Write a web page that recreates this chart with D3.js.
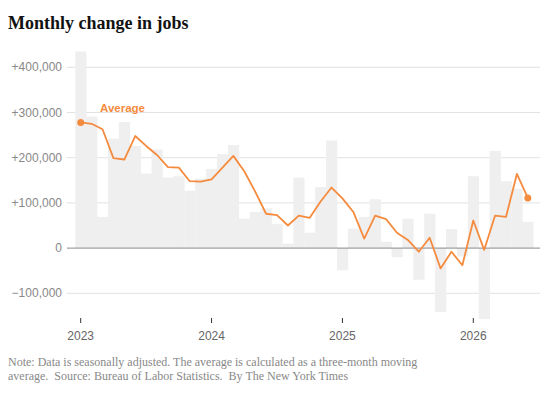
<!DOCTYPE html>
<html lang="en">
<head>
<meta charset="UTF-8">
<title>Monthly change in jobs</title>
<script src="https://cdn.jsdelivr.net/npm/d3@7"></script>
<style>
    body { margin: 0; background: #fff; }
    svg { display: block; }
</style>
</head>
<body>
<svg id="chart" width="550" height="402"></svg>
<script>
// monthly job change, Jan 2023 - Jun 2026
const months = d3.timeMonths(new Date(2023, 0, 1), new Date(2026, 6, 1));
const jobs = [
    435000, 291000, 69000, 242000, 279000, 226000, 165000, 218000, 156000, 159000,
    127000, 154000, 175000, 208000, 228000, 65000, 80000, 88000, 53000, 10000,
    156000, 34000, 135000, 238000, -49000, 43000, 69000, 108000, 14000, -20000,
    65000, -70000, 76000, -141000, 42000, -18000, 159000, -157000, 215000, 148000,
    131000, 58000
];
const average = [
    278000, 275000, 263000, 199000, 196000, 248000, 226000, 206000, 179000, 178000,
    148000, 147000, 152000, 178000, 204000, 170000, 125000, 76000, 73000, 50000,
    72000, 67000, 103000, 134000, 110000, 80000, 21000, 72000, 64000, 34000,
    18000, -8000, 23000, -45000, -8000, -38000, 61000, -4000, 72000, 69000,
    164000, 111000
];
const yTicks = [-100000, 0, 100000, 200000, 300000, 400000];
const yearTicks = [0, 12, 24, 36];

const svg = d3.select("#chart");
const orange = "#f58b3e";

const x = d3.scaleBand()
    .domain(d3.range(months.length))
    .range([75.25, 75.25 + 42 * 10.905])
    .padding(0);
const bw = x.bandwidth();

const y = d3.scaleLinear()
    .domain([-100000, 400000])
    .range([293.3, 67.3]);

// title
svg.append("text")
    .attr("x", 8).attr("y", 29)
    .attr("font-family", "Liberation Serif, serif")
    .attr("font-weight", "bold")
    .attr("font-size", 18)
    .attr("fill", "#121212")
    .text("Monthly change in jobs");

// gridlines + y labels
const fmt = d => d === 0 ? "0" : (d > 0 ? "+" : "\u2212") + d3.format(",")(Math.abs(d));
svg.append("g").selectAll("line")
    .data(yTicks.filter(d => d !== 0))
    .join("line")
    .attr("x1", 67).attr("x2", 540)
    .attr("y1", d => y(d)).attr("y2", d => y(d))
    .attr("stroke", "#e2e2e2").attr("stroke-width", 1);

svg.append("g").selectAll("text")
    .data(yTicks)
    .join("text")
    .attr("x", 62).attr("y", d => y(d) + 4)
    .attr("text-anchor", "end")
    .attr("font-family", "Liberation Sans, Arial, sans-serif")
    .attr("font-size", 12)
    .attr("fill", "#888")
    .text(fmt);

// bars
svg.append("g").selectAll("rect")
    .data(jobs)
    .join("rect")
    .attr("x", (d, i) => x(i))
    .attr("width", bw + 0.3)
    .attr("y", d => y(Math.max(0, d)))
    .attr("height", d => Math.abs(y(d) - y(0)))
    .attr("fill", "#efefef");

// zero line
svg.append("line")
    .attr("x1", 67).attr("x2", 540)
    .attr("y1", y(0)).attr("y2", y(0))
    .attr("stroke", "#8a8a8a").attr("stroke-width", 1);

// average line
const line = d3.line()
    .x((d, i) => x(i) + bw / 2)
    .y(d => y(d));

svg.append("path")
    .datum(average)
    .attr("d", line)
    .attr("fill", "none")
    .attr("stroke", orange)
    .attr("stroke-width", 1.8)
    .attr("stroke-linejoin", "round");

svg.append("g").selectAll("circle")
    .data([0, average.length - 1])
    .join("circle")
    .attr("cx", i => x(i) + bw / 2)
    .attr("cy", i => y(average[i]))
    .attr("r", 3.5)
    .attr("fill", orange);

svg.append("text")
    .attr("x", 100).attr("y", 112)
    .attr("font-family", "Liberation Sans, Arial, sans-serif")
    .attr("font-weight", "bold")
    .attr("font-size", 11.5)
    .attr("fill", orange)
    .text("Average");

// x axis
const xa = svg.append("g");
xa.selectAll("line")
    .data(yearTicks)
    .join("line")
    .attr("x1", i => x(i) + bw / 2).attr("x2", i => x(i) + bw / 2)
    .attr("y1", 318).attr("y2", 323)
    .attr("stroke", "#333");
xa.selectAll("text")
    .data(yearTicks)
    .join("text")
    .attr("x", i => x(i) + bw / 2).attr("y", 340)
    .attr("text-anchor", "middle")
    .attr("font-family", "Liberation Sans, Arial, sans-serif")
    .attr("font-size", 12)
    .attr("fill", "#666")
    .text(i => months[i].getFullYear());

// note
const note = svg.append("text")
    .attr("font-family", "Liberation Serif, serif")
    .attr("font-size", 12)
    .attr("fill", "#888")
    .style("white-space", "pre");
note.append("tspan").attr("x", 8).attr("y", 366)
    .text("Note: Data is seasonally adjusted. The average is calculated as a three-month moving");
note.append("tspan").attr("x", 8).attr("y", 380)
    .text("average.  Source: Bureau of Labor Statistics.  By The New York Times");
</script>
</body>
</html>
